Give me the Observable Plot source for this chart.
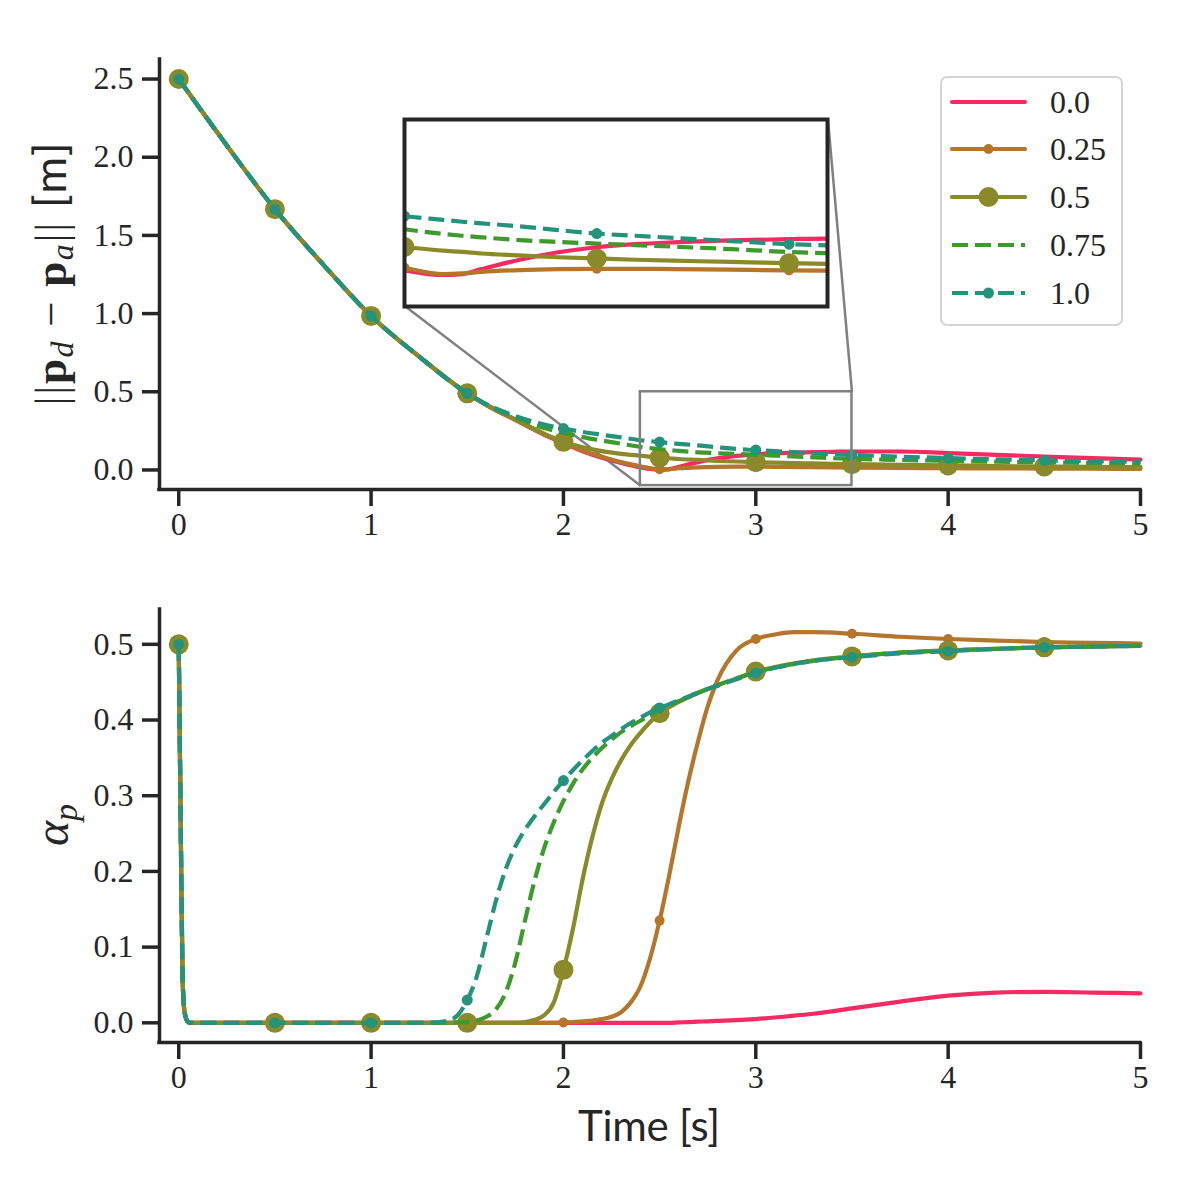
<!DOCTYPE html>
<html><head><meta charset="utf-8">
<script src="https://cdn.jsdelivr.net/npm/d3@7"></script>
<script src="https://cdn.jsdelivr.net/npm/@observablehq/plot@0.6"></script>
<style>
body{margin:0;background:#fff;}
#wrap{position:relative;width:1200px;height:1200px;background:#fff;}
</style></head><body><div id="wrap"></div>
<script>
// ---------- data ----------
const seriesNames = ["0.0", "0.25", "0.5", "0.75", "1.0"];
const colors = ["#f52a62", "#b5752a", "#8b8a2b", "#3d9b2c", "#23937b"];
const dashes = [null, null, null, "16,7", "16,7"];
const markerR = [0, 5, 10, 0, 5.5];

const xTicks = [0, 1, 2, 3, 4, 5];
const yTicksTop = [0, 0.5, 1, 1.5, 2, 2.5];
const yTicksBot = [0, 0.1, 0.2, 0.3, 0.4, 0.5];
const markerTimes = [0, 0.5, 1, 1.5, 2, 2.5, 3, 3.5, 4, 4.5];
const insetMarkerTimes = [2.4, 2.9, 3.4];
const zoomX = [2.4, 3.5];
const zoomY = [-0.1, 0.5];
const insetPos = {x1: 1.175, x2: 3.375, y1: 1.048, y2: 2.243}; // inset placement, top-axes data coords

// top panel: ||p_d - p_a|| [m]
const timeTop = [0,0.25,0.5,0.75,1,1.25,1.5,1.6,1.75,1.9,2,2.1,2.2,2.3,2.4,2.5,2.55,2.6,2.7,2.8,2.9,3,3.1,3.25,3.4,3.5,3.75,4,4.25,4.5,4.75,5];
const errTop00 = [2.5,2.075,1.668,1.315,0.985,0.725,0.49,0.415,0.32,0.225,0.172,0.12,0.078,0.044,0.016,0.001,0.004,0.02,0.05,0.074,0.09,0.1,0.106,0.112,0.116,0.118,0.118,0.108,0.097,0.086,0.076,0.066];
const errTop025 = [2.5,2.075,1.668,1.315,0.985,0.725,0.49,0.415,0.32,0.228,0.175,0.125,0.085,0.05,0.024,0.004,0.006,0.011,0.017,0.02,0.021,0.021,0.02,0.018,0.016,0.015,0.013,0.011,0.01,0.009,0.008,0.007];
const errTop05 = [2.5,2.075,1.668,1.315,0.985,0.725,0.49,0.418,0.322,0.232,0.18,0.145,0.12,0.103,0.091,0.079,0.075,0.07,0.064,0.058,0.054,0.05,0.047,0.043,0.039,0.037,0.033,0.029,0.025,0.022,0.02,0.018];
const errTop075 = [2.5,2.075,1.668,1.315,0.985,0.725,0.49,0.418,0.335,0.268,0.237,0.21,0.188,0.168,0.148,0.133,0.127,0.122,0.113,0.107,0.102,0.097,0.092,0.084,0.075,0.071,0.064,0.058,0.053,0.049,0.045,0.042];
const errTop10 = [2.5,2.075,1.668,1.315,0.985,0.725,0.49,0.42,0.345,0.29,0.265,0.243,0.225,0.208,0.19,0.178,0.172,0.167,0.157,0.145,0.134,0.127,0.12,0.11,0.1,0.096,0.085,0.076,0.068,0.061,0.056,0.051];

// bottom panel: alpha_p
const timeBot = [0,0.01,0.02,0.03,0.045,0.06,0.5,1,1.3,1.4,1.45,1.5,1.55,1.6,1.65,1.7,1.75,1.8,1.85,1.9,1.95,2,2.05,2.1,2.15,2.2,2.25,2.3,2.35,2.4,2.45,2.5,2.55,2.6,2.65,2.7,2.75,2.8,2.9,3,3.1,3.2,3.3,3.5,3.75,4,4.25,4.5,4.75,5];
const alpha00 = [0.5,0.27,0.06,0.015,0.002,0,
  0,0,0,0,0,0,0,0,0,0,0,0,0,0,0,0,0,0,0,0,0,0,0,0,0,0,
  0,0.0005,0.001,0.0015,0.002,0.0025,0.0035,0.005,0.007,0.0095,0.012,0.019,0.028,0.036,0.04,0.041,0.04,0.039];
const alpha025 = [0.5,0.27,0.06,0.015,0.002,0,
  0,0,0,0,0,0,0,0,0,0,0,0,0,0,0,
  0.0005,0.001,0.002,0.003,0.005,0.008,0.014,0.027,0.048,0.085,0.135,0.195,0.26,0.32,0.372,0.418,0.452,
  0.492,0.507,0.513,0.516,0.516,0.514,0.51,0.507,0.505,0.503,0.502,0.501];
const alpha05 = [0.5,0.27,0.06,0.015,0.002,0,
  0,0,0,0,0,0,0,0,0,0,0,
  0.001,0.004,0.01,0.027,0.07,0.125,0.19,0.245,0.29,0.322,0.347,0.367,0.383,0.397,0.409,0.417,0.424,0.43,0.436,0.441,0.446,
  0.455,0.464,0.47,0.475,0.479,0.484,0.489,0.492,0.494,0.496,0.497,0.498];
const alpha075 = [0.5,0.27,0.06,0.015,0.002,0,
  0,0,0,0,
  0.0005,0.001,0.003,0.008,0.018,0.04,0.08,0.135,0.188,0.231,0.265,
  0.293,0.316,0.335,0.35,0.363,0.374,0.384,0.392,0.399,0.406,0.413,0.419,0.425,0.431,0.436,0.441,0.446,
  0.455,0.463,0.469,0.474,0.478,0.484,0.489,0.492,0.494,0.496,0.497,0.498];
const alpha10 = [0.5,0.27,0.06,0.015,0.002,0,
  0,0,0,
  0.003,0.01,0.03,0.062,0.112,0.162,0.203,0.233,0.255,0.273,0.289,0.305,
  0.32,0.334,0.347,0.359,0.37,0.379,0.388,0.396,0.403,0.41,0.416,0.421,0.426,0.431,0.436,0.441,0.445,
  0.454,0.462,0.469,0.474,0.478,0.483,0.488,0.491,0.494,0.496,0.497,0.498];

// ---------- helpers ----------
const INK = "#262626";
const LW = 4.2;
function rowsOf(time, arrays) {
  const out = [];
  arrays.forEach((vals, i) => vals.forEach((v, j) => out.push({t: time[j], v, s: seriesNames[i]})));
  return out;
}
const isIn = (t, list) => list.some(m => Math.abs(m - t) < 1e-9);
function seriesMarks(rows, mlist, extra = {}) {
  const marks = [];
  seriesNames.forEach((name, i) => {
    const d = rows.filter(r => r.s === name);
    marks.push(Plot.line(d, {x: "t", y: "v", stroke: colors[i], strokeWidth: LW,
      strokeDasharray: dashes[i] || undefined, strokeLinecap: dashes[i] ? "butt" : "round", curve: "monotone-x", ...extra}));
    if (markerR[i] > 0) marks.push(Plot.dot(d.filter(r => isIn(r.t, mlist)), {x: "t", y: "v", r: markerR[i], fill: colors[i], stroke: "none", ...extra}));
  });
  return marks;
}
function axes(yTicks) {
  return [
    Plot.axisX({ticks: xTicks, tickSize: 17, tickPadding: 6, strokeWidth: 3.5, tickFormat: d => String(d), label: null}),
    Plot.axisY({ticks: yTicks, tickSize: 17, tickPadding: 9, strokeWidth: 3.5, tickFormat: d3.format(".1f"), label: null}),
    Plot.ruleX([-0.1], {stroke: INK, strokeWidth: 3.5, strokeLinecap: "square"}),
  ];
}
const baseStyle = {fontFamily: "'Liberation Serif', serif", fontSize: "32px", color: INK, background: "transparent", overflow: "visible"};

const wrap = document.getElementById("wrap");

// ---------- top panel ----------
const topRows = rowsOf(timeTop, [errTop00, errTop025, errTop05, errTop075, errTop10]);
const zoomBox = [{x1: zoomX[0], x2: zoomX[1], y1: zoomY[0], y2: zoomY[1]}];
const connectors = [
  {x1: insetPos.x1, y1: insetPos.y1, x2: zoomX[0], y2: zoomY[0]},
  {x1: insetPos.x2, y1: insetPos.y2, x2: zoomX[1], y2: zoomY[1]}
];
const topPlot = Plot.plot({
  width: 1200, height: 570,
  marginLeft: 159, marginRight: 60, marginTop: 59, marginBottom: 81,
  x: {domain: [-0.1, 5]},
  y: {domain: [-0.125, 2.625]},
  style: baseStyle,
  marks: [
    ...axes(yTicksTop),
    Plot.ruleY([-0.125], {stroke: INK, strokeWidth: 3.5, strokeLinecap: "square"}),
    Plot.link(connectors, {x1: "x1", y1: "y1", x2: "x2", y2: "y2", stroke: "#808080", strokeWidth: 2.5}),
    ...seriesMarks(topRows, markerTimes),
    Plot.rect(zoomBox, {x1: "x1", x2: "x2", y1: "y1", y2: "y2", fill: "none", stroke: "#808080", strokeWidth: 2.5})
  ]
});
wrap.appendChild(topPlot);

// y label top
{
  const lab = d3.select(topPlot).append("text")
    .attr("transform", "translate(66,274) rotate(-90)")
    .attr("text-anchor", "middle").attr("fill", INK)
    .attr("font-family", "'Liberation Serif', serif").attr("font-size", 45)
    .attr("textLength", 263).attr("lengthAdjust", "spacing");
  lab.append("tspan").text("||");
  lab.append("tspan").attr("font-weight", "bold").text("p");
  lab.append("tspan").attr("font-style", "italic").attr("font-size", 32).attr("dy", 7).text("d");
  lab.append("tspan").attr("dy", -7).text(" \u2212 ");
  lab.append("tspan").attr("font-weight", "bold").text("p");
  lab.append("tspan").attr("font-style", "italic").attr("font-size", 32).attr("dy", 7).text("a");
  lab.append("tspan").attr("dy", -7).text("||");
  lab.append("tspan").attr("font-family", "Lato, sans-serif").text(" [m]");
}

// inset
{
  const xs = topPlot.scale("x"), ys = topPlot.scale("y");
  const left = xs.apply(insetPos.x1), right = xs.apply(insetPos.x2);
  const top = ys.apply(insetPos.y2), bottom = ys.apply(insetPos.y1);
  const inset = Plot.plot({
    width: Math.round(right - left), height: Math.round(bottom - top),
    margin: 0,
    x: {domain: zoomX, axis: null},
    y: {domain: zoomY, axis: null},
    style: {background: "white", overflow: "visible"},
    marks: [
      ...seriesMarks(topRows, insetMarkerTimes, {clip: true}),
      Plot.frame({stroke: INK, strokeWidth: 4})
    ]
  });
  inset.style.position = "absolute";
  inset.style.left = left + "px";
  inset.style.top = top + "px";
  wrap.appendChild(inset);
}

// ---------- bottom panel ----------
const botRows = rowsOf(timeBot, [alpha00, alpha025, alpha05, alpha075, alpha10]);
const botPlot = Plot.plot({
  width: 1200, height: 630,
  marginLeft: 159, marginRight: 60, marginTop: 39, marginBottom: 158,
  x: {domain: [-0.1, 5]},
  y: {domain: [-0.026, 0.546]},
  style: baseStyle,
  marks: [
    ...axes(yTicksBot),
    Plot.ruleY([-0.026], {stroke: INK, strokeWidth: 3.5, strokeLinecap: "square"}),
    ...seriesMarks(botRows, markerTimes)
  ]
});
wrap.appendChild(botPlot);
{
  const s = d3.select(botPlot);
  const a = s.append("text").attr("transform", "translate(68,255) rotate(-90)")
    .attr("text-anchor", "middle").attr("fill", INK)
    .attr("font-family", "'Liberation Serif', serif").attr("font-size", 48).attr("font-style", "italic");
  a.append("tspan").text("\u03b1");
  a.append("tspan").attr("font-size", 34).attr("dy", 9).text("p");
  s.append("text").attr("x", 649).attr("y", 571).attr("text-anchor", "middle").attr("fill", INK)
    .attr("font-family", "Lato, sans-serif").attr("font-size", 42)
    .attr("textLength", 142).attr("lengthAdjust", "spacing").text("Time [s]");
}

// ---------- legend ----------
{
  const lg = document.createElement("div");
  lg.style.cssText = "position:absolute;left:940px;top:76px;width:179px;height:246px;border:2px solid #d4d4d4;border-radius:7px;background:rgba(255,255,255,0.85);box-sizing:content-box;";
  seriesNames.forEach((name, i) => {
    const cy = 23.7 + i * 47.75;
    const svg = d3.create("svg").attr("width", 74).attr("height", 24)
      .style("position", "absolute").style("left", "10px").style("top", (cy - 12) + "px").style("overflow", "visible");
    svg.append("line").attr("x1", 0).attr("x2", 73).attr("y1", 12).attr("y2", 12)
      .attr("stroke", colors[i]).attr("stroke-width", LW)
      .attr("stroke-dasharray", dashes[i] || null)
      .attr("stroke-linecap", dashes[i] ? "butt" : "round");
    if (markerR[i] > 0) svg.append("circle").attr("cx", 36.5).attr("cy", 12).attr("r", markerR[i]).attr("fill", colors[i]);
    lg.appendChild(svg.node());
    const tx = document.createElement("div");
    tx.textContent = name;
    tx.style.cssText = `position:absolute;left:108px;top:${cy - 20}px;height:40px;line-height:40px;font-family:'Liberation Serif',serif;font-size:32px;color:${INK};`;
    lg.appendChild(tx);
  });
  wrap.appendChild(lg);
}
</script>
</body></html>
